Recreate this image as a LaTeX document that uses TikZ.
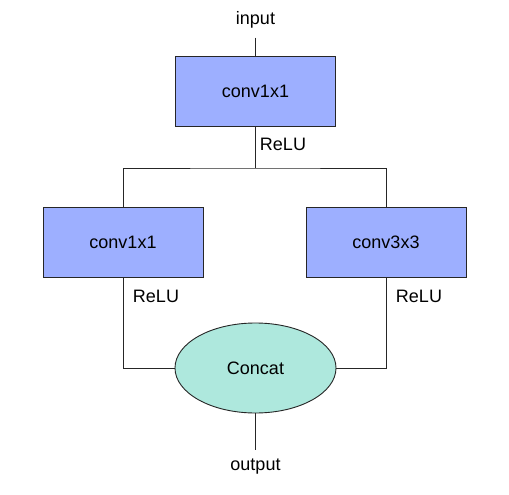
\documentclass[tikz,border=0pt]{standalone}
\usepackage{fontspec}
\setmainfont{Liberation Sans}
\usetikzlibrary{shapes.geometric}

\definecolor{convblue}{HTML}{9DAFFF}
\definecolor{concatgreen}{HTML}{AEE8DD}

\begin{document}
\begin{tikzpicture}[x=1pt,y=-1pt,
  every node/.style={font=\fontsize{18}{21}\selectfont},
  convbox/.style={draw=black!85,fill=convblue,line width=0.9pt,minimum width=160pt,minimum height=70pt},
  concatnode/.style={ellipse,draw=black!85,fill=concatgreen,line width=0.9pt,minimum width=161pt,minimum height=90pt,inner sep=0pt},
  iolbl/.style={inner sep=9pt},
  relulbl/.style={inner sep=0pt},
  wire/.style={line width=0.9pt,draw=black!85}]

\useasboundingbox (0,0) rectangle (509,495);

\node[iolbl] (in) at (255.5,20) {input};
\node[convbox] (top) at (255.5,91) {conv1x1};
\node[relulbl] (relu0) at (283,144) {ReLU};

\coordinate (split) at (255.5,168);

\node[convbox] (left) at (123,242) {conv1x1};
\node[convbox] (right) at (386,242) {conv3x3};
\node[relulbl] (relu1) at (156,296) {ReLU};
\node[relulbl] (relu2) at (419,296) {ReLU};

\node[concatnode] (cat) at (255.5,368) {Concat};
\node[iolbl] (out) at (255.5,467) {output};

\draw[wire] (in) -- (top);
\draw[wire] (top) -- (split);
\draw[wire] (left.north) |- (split) -| (right.north);
\draw[wire] (left.south) |- (cat.west);
\draw[wire] (right.south) |- (cat.east);
\draw[wire] (cat) -- (out);

\end{tikzpicture}
\end{document}
